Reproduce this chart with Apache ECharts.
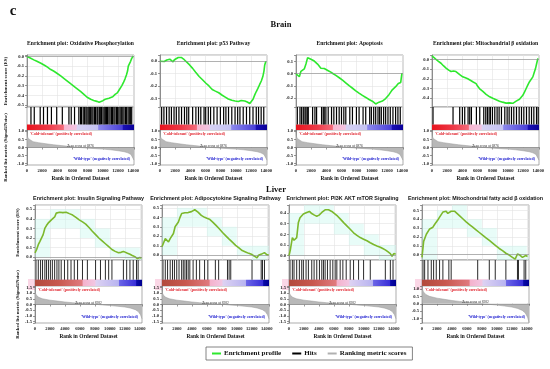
<!DOCTYPE html>
<html><head><meta charset="utf-8">
<script src="https://cdn.jsdelivr.net/npm/echarts@6/dist/echarts.min.js"></script>
<style>html,body{margin:0;padding:0;background:#fff}#c{width:550px;height:369px}</style>
</head><body><div id="c"></div>
<script>
// ---------------- DATA ----------------
const rowTitles = ['Brain', 'Liver'];
const panelTitles = [
  'Enrichment plot: Oxidative Phosphorylation',
  'Enrichment plot: p53 Pathway',
  'Enrichment plot: Apoptosis',
  'Enrichment plot: Mitochondrial \u03b2 oxidation',
  'Enrichment plot: Insulin Signaling Pathway',
  'Enrichment plot: Adipocytokine Signaling Pathway',
  'Enrichment plot: PI3K AKT mTOR Signaling',
  'Enrichment plot: Mitochondrial fatty acid \u03b2 oxidation'
];
const legendNames = ['Enrichment profile', 'Hits', 'Ranking metric scores'];
const posLabel = "'Cold-tolerant' (positively correlated)";
const negLabel = "'Wild-type' (negatively correlated)";
const zeroLabels = ['Zero cross at 6876', 'Zero cross at 8382'];

// Brain ES curves
const esOxphos = [[0,0.0],[300,-0.01],[900,-0.035],[1300,-0.05],[1830,-0.07],[2300,-0.09],[2700,-0.11],[3130,-0.135],[3500,-0.15],[3800,-0.165],[4440,-0.2],[5100,-0.24],[5740,-0.28],[6400,-0.32],[7050,-0.36],[7500,-0.39],[7920,-0.42],[8400,-0.44],[8790,-0.452],[9200,-0.462],[9500,-0.47],[9700,-0.466],[10000,-0.455],[10300,-0.44],[10530,-0.445],[10800,-0.43],[10960,-0.425],[11300,-0.415],[11610,-0.39],[11900,-0.375],[12100,-0.35],[12270,-0.33],[12500,-0.3],[12700,-0.27],[12920,-0.23],[13100,-0.19],[13250,-0.15],[13350,-0.1],[13500,-0.08],[13650,-0.05],[13800,-0.02],[14000,0.005]];
const esP53 = [[0,0.0],[200,0.005],[560,-0.002],[900,0.01],[1290,0.016],[1500,0.0],[1720,-0.005],[1900,0.012],[2150,0.026],[2400,0.03],[2580,0.038],[2800,0.03],[3010,0.026],[3200,0.012],[3440,0.0],[3900,-0.03],[4300,-0.058],[4700,-0.09],[5160,-0.124],[5600,-0.15],[6020,-0.176],[6450,-0.2],[6880,-0.229],[7300,-0.242],[7740,-0.255],[8200,-0.275],[8600,-0.29],[9000,-0.305],[9460,-0.316],[9900,-0.322],[10320,-0.326],[10700,-0.318],[11180,-0.322],[11500,-0.33],[11830,-0.342],[12050,-0.33],[12260,-0.308],[12500,-0.27],[12690,-0.245],[12900,-0.22],[13120,-0.19],[13350,-0.16],[13550,-0.124],[13700,-0.08],[13800,-0.03],[13950,0.0]];
const esApoptosis = [[0,0.0],[250,-0.01],[440,-0.025],[650,0.02],[870,0.008],[1090,0.04],[1310,0.08],[1530,0.133],[1750,0.125],[1970,0.12],[2200,0.112],[2410,0.105],[2640,0.094],[2840,0.08],[3050,0.064],[3280,0.045],[3500,0.052],[3720,0.043],[3940,0.035],[4250,0.025],[4590,0.013],[4900,0.0],[5250,-0.013],[5700,-0.033],[6130,-0.053],[6550,-0.075],[7000,-0.099],[7450,-0.12],[7880,-0.141],[8300,-0.16],[8750,-0.179],[9200,-0.196],[9630,-0.213],[10060,-0.227],[10300,-0.235],[10500,-0.25],[10720,-0.24],[10940,-0.235],[11150,-0.232],[11380,-0.226],[11600,-0.215],[11810,-0.205],[12050,-0.19],[12250,-0.173],[12500,-0.15],[12690,-0.133],[12900,-0.12],[13130,-0.107],[13300,-0.095],[13480,-0.08],[13650,-0.067],[13800,-0.072],[13960,0.005]];
const esMitoBeta = [[0,0.035],[250,0.02],[530,0.0],[850,-0.02],[1190,-0.04],[1500,-0.065],[1850,-0.09],[2200,-0.11],[2510,-0.125],[2730,-0.14],[2850,-0.12],[2950,-0.11],[3150,-0.125],[3390,-0.14],[3700,-0.16],[4050,-0.18],[4400,-0.19],[4710,-0.2],[5050,-0.215],[5370,-0.23],[5600,-0.24],[5810,-0.25],[6000,-0.275],[6250,-0.3],[6700,-0.33],[7130,-0.36],[7600,-0.385],[8010,-0.4],[8450,-0.415],[8890,-0.43],[9300,-0.44],[9770,-0.45],[10000,-0.445],[10210,-0.448],[10450,-0.44],[10650,-0.452],[10850,-0.44],[11090,-0.43],[11300,-0.42],[11530,-0.41],[11750,-0.39],[11970,-0.37],[12200,-0.335],[12410,-0.3],[12650,-0.26],[12850,-0.23],[13050,-0.21],[13290,-0.18],[13450,-0.14],[13640,-0.095],[13800,-0.04],[13950,0.01]];

// Liver ES curves
const esInsulin = [[0,0.045],[220,0.08],[440,0.13],[660,0.165],[880,0.18],[1090,0.235],[1310,0.3],[1530,0.33],[1750,0.355],[1970,0.37],[2190,0.39],[2410,0.38],[2630,0.42],[2840,0.46],[3060,0.455],[3280,0.47],[3500,0.462],[3720,0.465],[3940,0.472],[4160,0.47],[4380,0.462],[4590,0.455],[4810,0.448],[5030,0.44],[5470,0.415],[5910,0.39],[6350,0.368],[6780,0.345],[7220,0.31],[7660,0.27],[8100,0.235],[8530,0.2],[8970,0.17],[9410,0.14],[9850,0.11],[10280,0.08],[10720,0.06],[11160,0.045],[11500,0.05],[11810,0.06],[12030,0.05],[12360,0.04],[12690,0.03],[13000,0.018],[13340,0.005],[13690,-0.015],[14000,-0.005],[14250,-0.01]];
const esAdipo = [[0,0.09],[220,0.07],[440,0.175],[650,0.16],[870,0.14],[1090,0.175],[1310,0.16],[1530,0.23],[1750,0.3],[1970,0.315],[2190,0.35],[2410,0.4],[2630,0.44],[2840,0.455],[3060,0.448],[3280,0.445],[3500,0.45],[3720,0.455],[3940,0.46],[4160,0.465],[4380,0.48],[4600,0.468],[4810,0.455],[5030,0.44],[5250,0.42],[5470,0.41],[5690,0.4],[6000,0.39],[6340,0.38],[6780,0.35],[7220,0.315],[7650,0.28],[8090,0.24],[8530,0.205],[8970,0.17],[9400,0.138],[9840,0.105],[10280,0.078],[10720,0.05],[11160,0.035],[11600,0.02],[12030,0.007],[12360,-0.01],[12690,-0.028],[12900,0.0],[13130,0.018],[13300,0.012],[13430,0.007],[13690,0.028],[14000,0.007],[14250,0.004]];
const esPi3k = [[0,0.0],[180,0.055],[450,0.17],[670,0.145],[890,0.13],[1030,0.17],[1250,0.31],[1470,0.355],[1700,0.37],[1920,0.39],[2150,0.38],[2370,0.405],[2730,0.415],[3040,0.395],[3400,0.38],[3710,0.37],[4020,0.38],[4380,0.405],[4600,0.42],[4830,0.43],[5050,0.432],[5280,0.43],[5500,0.425],[5720,0.415],[5950,0.402],[6170,0.39],[6500,0.37],[6840,0.345],[7300,0.31],[7730,0.28],[8180,0.248],[8630,0.215],[9080,0.19],[9520,0.17],[9970,0.155],[10420,0.14],[10860,0.122],[11310,0.105],[11750,0.092],[12200,0.08],[12530,0.068],[12870,0.055],[13200,0.038],[13540,0.02],[13770,-0.005],[14000,0.02],[14250,0.015]];
const esMitoFatty = [[0,-0.03],[220,0.15],[440,0.17],[580,0.23],[800,0.21],[1020,0.29],[1240,0.27],[1460,0.31],[1680,0.34],[1900,0.33],[2110,0.39],[2330,0.42],[2550,0.44],[2790,0.48],[3010,0.5],[3230,0.49],[3450,0.465],[3680,0.47],[3900,0.49],[4120,0.51],[4340,0.49],[4670,0.465],[5000,0.44],[5450,0.405],[5900,0.37],[6340,0.34],[6780,0.31],[7220,0.28],[7660,0.25],[8100,0.22],[8550,0.19],[9000,0.16],[9440,0.13],[9880,0.1],[10320,0.07],[10760,0.045],[11210,0.016],[11650,-0.004],[12090,-0.03],[12450,-0.05],[12760,0.008],[13070,-0.004],[13430,-0.03],[13650,-0.05],[13870,-0.01],[14100,-0.02]];

// Hits (rank positions of gene-set members)
const hitsOxphos = [522,957,1740,2175,2697,3219,3915,4655,5525,5829,6264,6830,7050,7180,7400,7560,7760,7900,8060,8210,8350,8540,8690,8880,9040,9230,9340,9530,9660,9820,10010,10170,10320,10480,10600,10790,10950,11150,11260,11450,11600,11800,11910,12100,12270,12430,12620,12780,12970,13130,13320,13480,13660,13800];
const hitsP53 = [215,516,860,1204,1505,1849,2150,2494,2838,3225,3526,3784,4300,4730,5074,5375,5805,6020,6364,6665,7095,7525,7955,8385,8686,9030,9460,9890,10234,10535,10965,11395,11825,12255,12685,12986,13330,13674];
const hitsApoptosis = [175,525,744,963,1181,1313,1488,1619,2188,2494,2713,3369,3588,3719,3938,4244,4681,4988,5338,5688,5994,6300,6563,7088,7438,7963,8313,8838,9188,9713,9931,10238,10500,10806,11025,11244,11550,11813,12119,12425,12775,13125,13431,13738];
const hitsMitoBeta = [132,2772,3652,4004,4312,4752,4972,5192,5852,6292,6820,7084,7304,7524,7700,7964,8272,8580,8844,9152,9592,9900,10164,10472,10780,11132,11484,11792,12100,12452,12804,13112,13420,13772,13992];
const hitsInsulin = [131,438,744,1006,1313,1531,1794,2056,2319,2625,2931,3194,3500,3938,4375,4813,5250,5688,6344,7000,8094,8750,9406,9844,10281,11813,12250,12688,13125,13563,13781];
const hitsAdipo = [131,438,744,1094,1400,1663,1969,2275,2625,2844,3063,3281,3500,3719,4156,4594,5031,5688,6125,7131,7569,8750,8969,9188,12031,13256,13431,13694];
const hitsPi3k = [134,447,671,1028,1386,1699,1922,2280,2593,3040,3353,3710,4068,4381,4604,4828,5141,5498,5856,6169,6392,6839,7197,7644,8180,8627,9298,9968,10862,12874,13544,13902];
const hitsMitoFatty = [133,354,797,1240,1551,1905,2348,2791,3588,3898,7442,8993,9790,11208,12758,12891,13644,13866];

// Ranked list metric (Signal2Noise), one list per tissue
const rankBrain = [[0,0.95],[50,0.72],[150,0.56],[400,0.44],[800,0.36],[1500,0.3],[2500,0.23],[3500,0.17],[4500,0.12],[5500,0.07],[6876,0],[8000,-0.04],[9000,-0.07],[10000,-0.1],[11000,-0.14],[12000,-0.2],[12800,-0.26],[13300,-0.33],[13700,-0.43],[13900,-0.55],[14100,-0.78]];
const rankLiver = [[0,1.35],[60,1.0],[200,0.8],[500,0.63],[1000,0.5],[2000,0.38],[3000,0.3],[4000,0.22],[5000,0.16],[6000,0.1],[7000,0.05],[8382,0],[9000,-0.04],[10000,-0.09],[11000,-0.15],[12000,-0.22],[12800,-0.32],[13400,-0.45],[13800,-0.62],[14100,-0.9],[14300,-1.25]];

// ---------------- LAYOUT / STYLE ----------------
const F = 'Liberation Serif';
const FS = 'Liberation Sans';
const W = 107;
const rows = [
  { es: [55, 107], hits: [107, 130], rank: [130, 165], xMax: 14100, rMin: -1.08, rMax: 1.08,
    line: '#2ee82e', titleY: 44, titleFont: F, rowY: 25, rowX: 281, hitColor: '#000', hitW: 1.2,
    bar: [[0,'#e8141e'],[0.2,'#ee3a48'],[0.34,'#f36a7a'],[0.35,'#f7b6cf'],[0.46,'#f3c4e2'],[0.47,'#d6d2f4'],[0.66,'#c4c2f2'],[0.67,'#8c88ec'],[0.89,'#4a40d8'],[0.9,'#1a10b4'],[1,'#0a0099']] },
  { es: [205, 260], hits: [260, 286], rank: [286, 323], xMax: 14300, rMin: -1.62, rMax: 1.62,
    line: '#7cb82c', titleY: 199, titleFont: FS, rowY: 190, rowX: 276, hitColor: '#2a2a2a', hitW: 1.0,
    bar: [[0,'#b24a3c'],[0.22,'#c8584e'],[0.44,'#e07a7e'],[0.45,'#f4b2cc'],[0.56,'#f2c6e2'],[0.57,'#ddd2f2'],[0.78,'#b8b4f0'],[0.79,'#6a64e6'],[0.94,'#3a30d8'],[0.95,'#0a0aa8'],[1,'#000090']] }
];
const panels = [
  { es: esOxphos, hits: hitsOxphos, row: 0, left: 27, yMin: -0.52, yMax: 0.015 },
  { es: esP53, hits: hitsP53, row: 0, left: 160, yMin: -0.37, yMax: 0.05 },
  { es: esApoptosis, hits: hitsApoptosis, row: 0, left: 296, yMin: -0.275, yMax: 0.155 },
  { es: esMitoBeta, hits: hitsMitoBeta, row: 0, left: 432, yMin: -0.49, yMax: 0.045 },
  { es: esInsulin, hits: hitsInsulin, row: 1, left: 35, yMin: -0.03, yMax: 0.545 },
  { es: esAdipo, hits: hitsAdipo, row: 1, left: 162, yMin: -0.05, yMax: 0.53 },
  { es: esPi3k, hits: hitsPi3k, row: 1, left: 289, yMin: -0.04, yMax: 0.475 },
  { es: esMitoFatty, hits: hitsMitoFatty, row: 1, left: 422, yMin: -0.06, yMax: 0.56, rMin: -1.3, rMax: 1.2 }
];
const rankData = [rankBrain, rankLiver];

const HIT_MIN = -0.32; // hits axis: 0..1 = hit ticks, below 0 = colour bar
const fmtTenth = v => (Math.abs(v * 10 - Math.round(v * 10)) > 1e-6) ? '' : (Math.abs(v) < 1e-9 ? '0.0' : v.toFixed(1));
const fmtHalf = v => (Math.abs(v * 2 - Math.round(v * 2)) > 1e-6) ? '' : (Math.abs(v) < 1e-9 ? '0.0' : v.toFixed(1));
const fmtX = v => (v % 2000 === 0) ? String(v) : '';
const lab = { fontSize: 4.6, fontFamily: F, fontWeight: 'bold', color: '#222' };
const axLine = { show: true, lineStyle: { color: '#555', width: 0.6 } };
const axTick = { show: true, length: 2, lineStyle: { color: '#555', width: 0.6 } };
const split = { show: true, lineStyle: { color: '#e2e2e2', width: 0.6 } };

function cyanPatches(es, xMax, yMin, yMax) {
  const out = [];
  for (let b = 0; b * 2000 < xMax; b++) {
    const x0 = b * 2000, x1 = Math.min((b + 1) * 2000, xMax);
    const ys = es.filter(d => d[0] >= x0 && d[0] <= x1).map(d => d[1]);
    if (!ys.length) continue;
    const lo = Math.max(Math.floor(Math.min(...ys) * 10 + 1e-9) / 10, yMin);
    const hi = Math.min(Math.ceil(Math.max(...ys) * 10 - 1e-9) / 10, yMax);
    out.push([{ xAxis: x0, yAxis: lo }, { xAxis: x1, yAxis: hi }]);
  }
  return out;
}

const grid = [], xAxis = [], yAxis = [], series = [], graphic = [];
const text = (x, y, t, o) => graphic.push({ type: 'text', x, y, silent: true, z: 100,
  style: Object.assign({ text: t, fontFamily: F, fontWeight: 'bold', fontSize: 5, fill: '#111',
    textAlign: 'center', align: 'center', textVerticalAlign: 'middle', verticalAlign: 'middle' }, o || {}) });

panels.forEach((p, i) => {
  const r = rows[p.row];
  const g = grid.length;
  const xMax = r.xMax;
  const rMin = p.rMin !== undefined ? p.rMin : r.rMin;
  const rMax = p.rMax !== undefined ? p.rMax : r.rMax;
  const first = (i % 4 === 0);
  const gbase = { left: p.left, width: W, show: true, borderColor: '#777', borderWidth: 0.6, containLabel: false, outerBoundsMode: 'none' };
  grid.push(Object.assign({}, gbase, { top: r.es[0], height: r.es[1] - r.es[0], backgroundColor: '#fff' }));
  grid.push(Object.assign({}, gbase, { top: r.hits[0], height: r.hits[1] - r.hits[0] }));
  grid.push(Object.assign({}, gbase, { top: r.rank[0], height: r.rank[1] - r.rank[0], backgroundColor: '#fff' }));

  if (p.row === 1) {
    graphic.push({ type: 'rect', silent: true, z: -10, shape: { x: p.left - 7, y: r.hits[1] - 7, width: W * 0.62 + 7, height: 11 },
      style: { fill: '#fbd7e6' } });
  }

  xAxis.push({ gridIndex: g, type: 'value', min: 0, max: xMax, interval: 2000, axisLabel: { show: false },
    axisTick: { show: false }, axisLine: { show: false }, splitLine: split });
  xAxis.push({ gridIndex: g + 1, type: 'value', min: 0, max: xMax, axisLabel: { show: false },
    axisTick: { show: false }, axisLine: { show: false }, splitLine: { show: false } });
  xAxis.push({ gridIndex: g + 2, type: 'value', min: 0, max: xMax, interval: 2000, axisLine: axLine, axisTick: axTick,
    axisLabel: Object.assign({ margin: 3, formatter: fmtX, hideOverlap: false }, lab), splitLine: { show: false },
    name: 'Rank in Ordered Dataset', nameLocation: 'middle', nameGap: 11,
    nameTextStyle: { fontSize: 5.4, fontFamily: F, fontWeight: 'bold', color: '#111' } });

  yAxis.push({ gridIndex: g, type: 'value', min: p.yMin, max: p.yMax, splitNumber: 5,
    axisLabel: Object.assign({ margin: 3, formatter: fmtTenth, hideOverlap: false }, lab),
    axisLine: axLine, axisTick: axTick, splitLine: split,
    name: first ? 'Enrichment score (ES)' : '', nameLocation: 'middle', nameGap: p.row === 0 ? 19 : 15,
    nameTextStyle: { fontSize: 5, fontFamily: F, fontWeight: 'bold', color: '#111' } });
  yAxis.push({ gridIndex: g + 1, type: 'value', min: HIT_MIN, max: 1, axisLabel: { show: false },
    axisTick: { show: false }, axisLine: { show: false }, splitLine: { show: false } });
  yAxis.push({ gridIndex: g + 2, type: 'value', min: rMin, max: rMax, splitNumber: 5,
    axisLabel: Object.assign({ margin: 3, formatter: fmtHalf, hideOverlap: false }, lab),
    axisLine: axLine, axisTick: axTick, splitLine: { show: false },
    name: first ? 'Ranked list metric (Signal2Noise)' : '', nameLocation: 'middle', nameGap: p.row === 0 ? 19 : 15,
    nameTextStyle: { fontSize: 4.8, fontFamily: F, fontWeight: 'bold', color: '#111' } });

  const esSeries = {
    type: 'line', name: legendNames[0], xAxisIndex: g, yAxisIndex: g, data: p.es,
    showSymbol: false, symbol: 'none', animation: false,
    lineStyle: { color: r.line, width: 1.6 }, itemStyle: { color: r.line },
    markLine: { silent: true, symbol: 'none', animation: false, label: { show: false },
      lineStyle: { color: '#888', width: 0.6, type: 'solid' }, data: [{ yAxis: 0 }] }
  };
  if (p.row === 1) {
    esSeries.markArea = { silent: true, animation: false, itemStyle: { color: 'rgba(205,248,240,0.45)' },
      data: cyanPatches(p.es, xMax, p.yMin, p.yMax) };
  }
  series.push(esSeries);

  const hitsH = (r.hits[1] - r.hits[0]) / (1 - HIT_MIN);
  series.push({
    type: 'scatter', name: legendNames[1], xAxisIndex: g + 1, yAxisIndex: g + 1,
    data: p.hits.map(h => [h, 0.5]), symbol: 'rect', symbolSize: [r.hitW, hitsH], animation: false,
    itemStyle: { color: r.hitColor, opacity: 1 },
    markArea: { silent: true, animation: false,
      itemStyle: { color: { type: 'linear', x: 0, y: 0, x2: 1, y2: 0,
        colorStops: r.bar.map(s => ({ offset: s[0], color: s[1] })) } },
      data: [[{ xAxis: 0, yAxis: HIT_MIN }, { xAxis: xMax, yAxis: 0 }]] }
  });

  series.push({
    type: 'line', name: legendNames[2], xAxisIndex: g + 2, yAxisIndex: g + 2, data: rankData[p.row],
    showSymbol: false, symbol: 'none', animation: false,
    lineStyle: { color: '#9a9a9a', width: 0.5 }, itemStyle: { color: '#b0b0b0' },
    areaStyle: { color: '#b8b8b8', opacity: 1 },
    markLine: { silent: true, symbol: 'none', animation: false, label: { show: false },
      lineStyle: { color: '#888', width: 0.5, type: 'solid' }, data: [{ yAxis: 0 }] }
  });

  const cx = p.left + W / 2;
  text(cx, r.titleY, panelTitles[i], { fontFamily: r.titleFont, fontSize: r.titleFont === F ? 5.6 : 5.4 });
  const rt = r.rank[0], rb = r.rank[1];
  const zeroY = rt + (rMax / (rMax - rMin)) * (rb - rt);
  text(p.left + 3, rt + 3.5, posLabel, { fill: '#e0202a', fontSize: 3.9, textAlign: 'left', align: 'left' });
  text(p.left + W * 0.5, zeroY - 1.8, zeroLabels[p.row], { fill: '#333', fontSize: 3.6, fontWeight: 'normal' });
  text(p.left + W - 4, rb - 6.5, negLabel, { fill: '#2020d0', fontSize: 3.9, textAlign: 'right', align: 'right' });
});

text(13, 11, 'c', { fontSize: 15 });
text(rows[0].rowX, rows[0].rowY, rowTitles[0], { fontSize: 8.5 });
text(rows[1].rowX, rows[1].rowY, rowTitles[1], { fontSize: 8.5 });

const chart = echarts.init(document.getElementById('c'), null, { renderer: 'canvas' });
chart.setOption({
  animation: false,
  backgroundColor: '#fff',
  grid, xAxis, yAxis, series, graphic,
  legend: {
    data: legendNames, left: 206, top: 347, orient: 'horizontal',
    icon: 'rect', itemWidth: 9, itemHeight: 2, itemGap: 11,
    padding: [3, 6], borderColor: '#666', borderWidth: 0.8,
    selectedMode: false,
    textStyle: { fontSize: 7, fontFamily: F, fontWeight: 'bold', color: '#111', padding: [0, 0, 0, -2] }
  }
});
</script>
</body></html>
